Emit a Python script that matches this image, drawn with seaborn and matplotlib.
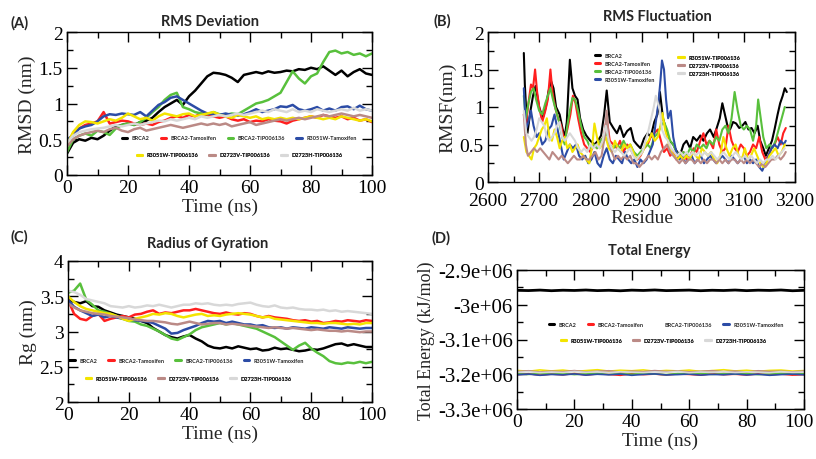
import matplotlib
matplotlib.use("Agg")
import matplotlib.pyplot as plt
import matplotlib.transforms as mtransforms
import seaborn as sns
from matplotlib.ticker import MultipleLocator, FuncFormatter
from matplotlib.lines import Line2D

# ---------------- data ----------------
names = ["BRCA2", "BRCA2-Tamoxifen", "BRCA2-TIP006136", "R3051W-Tamoxifen",
         "R3051W-TIP006136", "D2723V-TIP006136", "D2723H-TIP006136"]
colors = ["#000000", "#ff1f1f", "#58c03c", "#2c4ca6", "#f3e400", "#bb8a86", "#d8d8d8"]

time_ns = list(range(0, 101, 2))

rmsd_brca2 = [0.30, 0.45, 0.50, 0.48, 0.52, 0.50, 0.55, 0.62, 0.68, 0.70,
              0.72, 0.70, 0.74, 0.76, 0.80, 0.88, 0.95, 1.00, 1.05, 0.98,
              1.10, 1.18, 1.28, 1.38, 1.43, 1.42, 1.40, 1.36, 1.30, 1.40,
              1.42, 1.44, 1.42, 1.45, 1.43, 1.44, 1.46, 1.45, 1.48, 1.47,
              1.50, 1.48, 1.52, 1.46, 1.40, 1.46, 1.38, 1.44, 1.48, 1.42, 1.40]
rmsd_brca2_tam = [0.45, 0.58, 0.65, 0.70, 0.72, 0.75, 0.88, 0.72, 0.74, 0.76,
                  0.75, 0.72, 0.70, 0.72, 0.70, 0.74, 0.76, 0.80, 0.82, 0.80,
                  0.84, 0.82, 0.86, 0.84, 0.82, 0.80, 0.82, 0.78, 0.76, 0.78,
                  0.74, 0.76, 0.75, 0.78, 0.76, 0.75, 0.72, 0.76, 0.78, 0.80,
                  0.82, 0.80, 0.84, 0.82, 0.80, 0.82, 0.78, 0.80, 0.76, 0.78, 0.74]
rmsd_brca2_tip = [0.32, 0.50, 0.55, 0.58, 0.55, 0.62, 0.60, 0.56, 0.65, 0.70,
                  0.72, 0.70, 0.74, 0.80, 0.88, 0.95, 1.05, 1.12, 1.15, 0.95,
                  0.92, 0.88, 0.86, 0.85, 0.88, 0.85, 0.84, 0.86, 0.85, 0.90,
                  0.95, 1.00, 1.02, 1.05, 1.10, 1.15, 1.30, 1.45, 1.35, 1.28,
                  1.38, 1.42, 1.58, 1.72, 1.74, 1.70, 1.72, 1.68, 1.70, 1.66, 1.70]
rmsd_r3051w_tam = [0.50, 0.55, 0.65, 0.68, 0.70, 0.75, 0.82, 0.85, 0.84, 0.86,
                   0.85, 0.84, 0.88, 0.82, 0.90, 0.98, 1.02, 1.08, 1.10, 1.05,
                   1.00, 0.95, 0.90, 0.86, 0.85, 0.84, 0.86, 0.84, 0.83, 0.85,
                   0.88, 0.92, 0.88, 0.90, 0.92, 0.96, 0.95, 0.98, 0.92, 0.90,
                   0.92, 0.95, 0.90, 0.93, 0.90, 0.95, 0.96, 0.92, 0.97, 0.92, 0.90]
rmsd_r3051w_tip = [0.42, 0.60, 0.70, 0.75, 0.74, 0.72, 0.75, 0.78, 0.76, 0.80,
                   0.86, 0.82, 0.78, 0.80, 0.76, 0.82, 0.86, 0.84, 0.82, 0.85,
                   0.86, 0.82, 0.84, 0.86, 0.88, 0.84, 0.82, 0.80, 0.84, 0.82,
                   0.80, 0.82, 0.78, 0.80, 0.78, 0.80, 0.78, 0.80, 0.78, 0.80,
                   0.82, 0.80, 0.78, 0.80, 0.78, 0.82, 0.80, 0.78, 0.76, 0.78, 0.75]
rmsd_d2723v_tip = [0.40, 0.50, 0.55, 0.58, 0.60, 0.62, 0.60, 0.64, 0.66, 0.62,
                   0.60, 0.64, 0.66, 0.62, 0.64, 0.66, 0.68, 0.70, 0.68, 0.66,
                   0.68, 0.70, 0.72, 0.70, 0.72, 0.70, 0.72, 0.68, 0.70, 0.72,
                   0.74, 0.70, 0.72, 0.74, 0.76, 0.78, 0.76, 0.78, 0.80, 0.78,
                   0.80, 0.82, 0.84, 0.82, 0.84, 0.86, 0.84, 0.82, 0.84, 0.82, 0.80]
rmsd_d2723h_tip = [0.45, 0.55, 0.60, 0.62, 0.64, 0.65, 0.66, 0.68, 0.70, 0.68,
                   0.70, 0.72, 0.70, 0.72, 0.74, 0.76, 0.75, 0.78, 0.76, 0.78,
                   0.80, 0.78, 0.82, 0.80, 0.82, 0.84, 0.82, 0.84, 0.86, 0.84,
                   0.86, 0.88, 0.90, 0.88, 0.92, 0.90, 0.88, 0.92, 0.88, 0.90,
                   0.88, 0.92, 0.90, 0.88, 0.90, 0.92, 0.90, 0.94, 0.90, 0.92, 0.90]

rg_brca2 = [3.45, 3.42, 3.40, 3.43, 3.36, 3.35, 3.30, 3.27, 3.24, 3.22,
            3.20, 3.18, 3.15, 3.12, 3.05, 3.00, 2.95, 2.92, 2.90, 2.93,
            2.95, 2.90, 2.86, 2.80, 2.77, 2.76, 2.78, 2.76, 2.79, 2.77,
            2.75, 2.76, 2.73, 2.74, 2.77, 2.75, 2.76, 2.74, 2.72, 2.73,
            2.75, 2.74, 2.76, 2.79, 2.82, 2.83, 2.80, 2.82, 2.80, 2.78, 2.78]
rg_brca2_tam = [3.45, 3.25, 3.18, 3.16, 3.22, 3.25, 3.15, 3.18, 3.20, 3.22,
                3.20, 3.24, 3.25, 3.28, 3.30, 3.25, 3.27, 3.26, 3.28, 3.30,
                3.30, 3.32, 3.30, 3.28, 3.26, 3.25, 3.27, 3.25, 3.24, 3.26,
                3.25, 3.22, 3.20, 3.22, 3.20, 3.19, 3.18, 3.16, 3.15, 3.16,
                3.14, 3.15, 3.12, 3.13, 3.15, 3.14, 3.16, 3.15, 3.14, 3.16, 3.15]
rg_brca2_tip = [3.55, 3.58, 3.68, 3.45, 3.38, 3.30, 3.28, 3.25, 3.22, 3.18,
                3.15, 3.14, 3.10, 3.08, 3.04, 3.00, 2.95, 2.90, 2.88, 2.92,
                2.96, 3.02, 3.06, 3.08, 3.10, 3.12, 3.10, 3.12, 3.10, 3.08,
                3.06, 3.04, 3.00, 2.96, 2.92, 2.86, 2.80, 2.74, 2.80, 2.84,
                2.76, 2.70, 2.65, 2.58, 2.55, 2.54, 2.56, 2.55, 2.57, 2.55, 2.57]
rg_r3051w_tam = [3.45, 3.35, 3.30, 3.26, 3.22, 3.24, 3.20, 3.22, 3.20, 3.18,
                 3.18, 3.16, 3.15, 3.14, 3.12, 3.08, 3.04, 2.97, 2.98, 3.02,
                 3.05, 3.08, 3.12, 3.15, 3.14, 3.15, 3.12, 3.14, 3.12, 3.10,
                 3.10, 3.08, 3.09, 3.06, 3.05, 3.06, 3.04, 3.06, 3.05, 3.04,
                 3.06, 3.05, 3.04, 3.06, 3.05, 3.04, 3.06, 3.05, 3.04, 3.05, 3.05]
rg_r3051w_tip = [3.50, 3.42, 3.36, 3.32, 3.30, 3.28, 3.26, 3.25, 3.22, 3.18,
                 3.15, 3.18, 3.20, 3.22, 3.25, 3.24, 3.26, 3.25, 3.22, 3.20,
                 3.22, 3.24, 3.25, 3.22, 3.23, 3.22, 3.24, 3.25, 3.26, 3.25,
                 3.24, 3.22, 3.20, 3.21, 3.18, 3.17, 3.16, 3.15, 3.14, 3.13,
                 3.12, 3.12, 3.11, 3.12, 3.12, 3.11, 3.10, 3.11, 3.10, 3.12, 3.12]
rg_d2723v_tip = [3.40, 3.34, 3.30, 3.28, 3.26, 3.25, 3.24, 3.22, 3.21, 3.20,
                 3.19, 3.17, 3.16, 3.15, 3.15, 3.14, 3.13, 3.11, 3.10, 3.12,
                 3.14, 3.12, 3.10, 3.11, 3.12, 3.12, 3.10, 3.11, 3.10, 3.09,
                 3.08, 3.07, 3.06, 3.05, 3.06, 3.05, 3.04, 3.05, 3.04, 3.03,
                 3.02, 3.03, 3.02, 3.01, 3.01, 3.00, 3.01, 3.00, 2.99, 3.00, 3.00]
rg_d2723h_tip = [3.58, 3.56, 3.52, 3.46, 3.44, 3.42, 3.40, 3.36, 3.35, 3.34,
                 3.36, 3.34, 3.35, 3.37, 3.36, 3.38, 3.36, 3.34, 3.36, 3.38,
                 3.38, 3.40, 3.39, 3.40, 3.38, 3.37, 3.38, 3.37, 3.39, 3.40,
                 3.41, 3.38, 3.36, 3.35, 3.37, 3.34, 3.33, 3.34, 3.32, 3.31,
                 3.31, 3.30, 3.31, 3.29, 3.30, 3.28, 3.29, 3.28, 3.27, 3.26, 3.25]

# RMSF: (residue, nm) pairs
rmsf_brca2 = [(2670, 1.72), (2672, 1.3), (2677, 0.65), (2683, 0.95), (2688, 1.15), (2693, 1.28),
              (2700, 1.0), (2707, 0.85), (2713, 1.0), (2718, 1.2), (2723, 1.35), (2728, 1.25),
              (2733, 1.0), (2740, 0.9), (2746, 0.7), (2750, 0.6), (2754, 0.8), (2760, 1.63),
              (2765, 1.25), (2770, 1.15), (2775, 1.1), (2780, 0.85), (2786, 0.7), (2792, 0.62),
              (2800, 0.55), (2808, 0.5), (2815, 0.55), (2821, 0.62), (2827, 0.9), (2832, 1.22),
              (2838, 0.8), (2845, 0.72), (2852, 0.65), (2858, 0.75), (2865, 0.6), (2872, 0.68),
              (2879, 0.72), (2885, 0.55), (2891, 0.5), (2898, 0.45), (2905, 0.58), (2912, 0.65),
              (2918, 0.6), (2925, 0.8), (2931, 0.9), (2936, 1.2), (2942, 0.85), (2948, 0.7),
              (2955, 0.55), (2962, 0.5), (2968, 0.42), (2975, 0.35), (2982, 0.5), (2988, 0.55),
              (2995, 0.45), (3001, 0.6), (3008, 0.55), (3015, 0.62), (3021, 0.55), (3028, 0.65),
              (3034, 0.7), (3041, 0.6), (3047, 0.72), (3053, 0.85), (3058, 1.05), (3063, 0.9),
              (3068, 0.75), (3073, 0.7), (3079, 0.8), (3085, 0.78), (3091, 0.72), (3097, 0.75),
              (3103, 0.8), (3109, 0.7), (3115, 0.72), (3121, 0.65), (3127, 0.75), (3132, 0.55),
              (3138, 0.45), (3143, 0.35), (3149, 0.45), (3155, 0.55), (3160, 0.7), (3166, 0.9),
              (3171, 1.05), (3176, 1.15), (3180, 1.25), (3184, 1.2)]
rmsf_brca2_tam = [(2670, 0.9), (2674, 0.75), (2679, 1.05), (2684, 1.3), (2688, 1.25), (2692, 1.5),
                  (2696, 1.2), (2700, 1.0), (2706, 0.8), (2712, 0.95), (2717, 1.1), (2722, 1.5),
                  (2726, 1.2), (2731, 1.0), (2737, 0.85), (2743, 0.75), (2749, 0.55), (2755, 0.7),
                  (2761, 0.9), (2766, 1.15), (2771, 1.05), (2776, 0.85), (2782, 0.65), (2788, 0.5),
                  (2794, 0.45), (2800, 0.4), (2807, 0.5), (2813, 0.45), (2820, 0.55), (2826, 0.6),
                  (2832, 0.85), (2838, 0.55), (2845, 0.5), (2852, 0.45), (2858, 0.55), (2865, 0.4),
                  (2872, 0.5), (2878, 0.45), (2885, 0.35), (2892, 0.3), (2898, 0.35), (2905, 0.45),
                  (2912, 0.5), (2918, 0.6), (2925, 0.65), (2932, 0.7), (2938, 0.55), (2944, 0.4),
                  (2950, 0.45), (2956, 0.35), (2962, 0.4), (2968, 0.3), (2975, 0.35), (2982, 0.4),
                  (2988, 0.3), (2995, 0.35), (3002, 0.45), (3008, 0.4), (3015, 0.55), (3021, 0.65),
                  (3027, 0.5), (3033, 0.55), (3040, 0.45), (3046, 0.7), (3052, 0.5), (3058, 0.4),
                  (3064, 0.45), (3070, 0.75), (3076, 0.55), (3082, 0.45), (3088, 0.4), (3094, 0.5),
                  (3100, 0.45), (3106, 0.35), (3112, 0.4), (3118, 0.5), (3124, 0.45), (3130, 0.6),
                  (3136, 0.4), (3142, 0.3), (3148, 0.35), (3154, 0.45), (3160, 0.5), (3166, 0.6),
                  (3172, 0.5), (3177, 0.65), (3182, 0.72)]
rmsf_brca2_tip = [(2670, 1.15), (2674, 0.85), (2679, 1.05), (2684, 1.2), (2689, 1.25), (2694, 1.1),
                  (2700, 0.95), (2706, 0.9), (2712, 1.05), (2717, 1.15), (2722, 1.25), (2727, 1.1),
                  (2733, 0.95), (2739, 0.8), (2745, 0.6), (2750, 0.5), (2755, 0.75), (2760, 0.95),
                  (2765, 1.12), (2770, 1.1), (2776, 0.95), (2782, 0.75), (2788, 0.6), (2794, 0.55),
                  (2800, 0.45), (2807, 0.5), (2813, 0.45), (2820, 0.55), (2826, 0.6), (2832, 0.65),
                  (2838, 0.5), (2845, 0.45), (2852, 0.5), (2858, 0.45), (2865, 0.55), (2872, 0.45),
                  (2878, 0.5), (2885, 0.4), (2892, 0.35), (2898, 0.4), (2905, 0.45), (2912, 0.5),
                  (2918, 0.45), (2925, 0.6), (2932, 0.65), (2938, 0.75), (2944, 0.8), (2950, 0.7),
                  (2956, 0.55), (2962, 0.5), (2968, 0.4), (2975, 0.35), (2982, 0.4), (2988, 0.35),
                  (2995, 0.45), (3002, 0.4), (3008, 0.5), (3015, 0.45), (3021, 0.5), (3027, 0.45),
                  (3033, 0.55), (3040, 0.5), (3046, 0.6), (3052, 0.55), (3058, 0.7), (3064, 0.75),
                  (3070, 0.65), (3076, 0.85), (3082, 1.2), (3088, 0.95), (3094, 0.75), (3100, 0.7),
                  (3106, 0.75), (3112, 0.7), (3118, 0.55), (3124, 0.75), (3128, 1.1), (3133, 0.85),
                  (3138, 0.6), (3144, 0.45), (3150, 0.5), (3156, 0.45), (3162, 0.55), (3168, 0.7),
                  (3174, 0.85), (3180, 1.0)]
rmsf_r3051w_tam = [(2670, 1.25), (2674, 0.7), (2679, 0.8), (2684, 0.95), (2689, 0.75), (2695, 0.6),
                   (2700, 0.65), (2706, 0.5), (2712, 0.55), (2718, 0.7), (2724, 0.75), (2730, 0.9),
                   (2736, 0.7), (2742, 0.5), (2748, 0.3), (2754, 0.4), (2760, 0.5), (2766, 0.45),
                   (2772, 0.5), (2778, 0.35), (2784, 0.3), (2790, 0.35), (2796, 0.25), (2802, 0.3),
                   (2808, 0.4), (2814, 0.25), (2820, 0.2), (2826, 0.35), (2832, 0.45), (2838, 0.3),
                   (2844, 0.25), (2850, 0.35), (2856, 0.3), (2862, 0.25), (2868, 0.4), (2874, 0.3),
                   (2880, 0.25), (2886, 0.3), (2892, 0.2), (2898, 0.3), (2904, 0.25), (2910, 0.3),
                   (2916, 0.4), (2922, 0.5), (2928, 0.8), (2933, 1.05), (2937, 1.35), (2940, 1.62),
                   (2944, 1.5), (2948, 1.1), (2952, 0.85), (2957, 0.95), (2962, 0.6), (2968, 0.4),
                   (2974, 0.3), (2980, 0.35), (2986, 0.25), (2992, 0.3), (2998, 0.35), (3004, 0.25),
                   (3010, 0.3), (3016, 0.35), (3022, 0.25), (3028, 0.3), (3034, 0.35), (3040, 0.3),
                   (3046, 0.25), (3052, 0.3), (3058, 0.35), (3064, 0.3), (3070, 0.25), (3076, 0.35),
                   (3082, 0.3), (3088, 0.25), (3094, 0.3), (3100, 0.35), (3106, 0.25), (3112, 0.3),
                   (3118, 0.25), (3124, 0.3), (3130, 0.2), (3136, 0.15), (3142, 0.25), (3148, 0.35),
                   (3154, 0.45), (3160, 0.5), (3166, 0.45), (3172, 0.55), (3178, 0.5), (3182, 0.55)]
rmsf_r3051w_tip = [(2670, 0.6), (2675, 0.4), (2680, 0.35), (2685, 0.3), (2690, 0.45), (2695, 0.5),
                   (2700, 0.6), (2705, 0.7), (2710, 0.75), (2715, 0.85), (2720, 0.6), (2725, 0.55),
                   (2730, 0.7), (2735, 0.6), (2740, 0.45), (2745, 0.55), (2750, 0.6), (2755, 0.45),
                   (2760, 0.5), (2765, 0.4), (2770, 0.45), (2775, 0.5), (2780, 0.4), (2786, 0.35),
                   (2792, 0.3), (2798, 0.25), (2804, 0.5), (2808, 0.78), (2813, 0.6), (2818, 0.45),
                   (2824, 0.5), (2830, 0.6), (2836, 0.45), (2842, 0.4), (2848, 0.55), (2854, 0.45),
                   (2860, 0.4), (2866, 0.5), (2872, 0.45), (2878, 0.5), (2884, 0.4), (2890, 0.3),
                   (2896, 0.35), (2902, 0.4), (2908, 0.5), (2914, 0.55), (2920, 0.65), (2926, 0.55),
                   (2932, 0.6), (2937, 0.75), (2941, 0.92), (2946, 0.7), (2952, 0.55), (2958, 0.4),
                   (2964, 0.35), (2970, 0.3), (2976, 0.35), (2982, 0.3), (2988, 0.35), (2994, 0.3),
                   (3000, 0.4), (3006, 0.35), (3012, 0.3), (3018, 0.45), (3024, 0.4), (3030, 0.35),
                   (3036, 0.4), (3042, 0.3), (3048, 0.25), (3054, 0.35), (3060, 0.6), (3066, 0.45),
                   (3072, 0.35), (3078, 0.45), (3084, 0.5), (3090, 0.35), (3096, 0.3), (3102, 0.45),
                   (3108, 0.3), (3114, 0.35), (3120, 0.45), (3126, 0.35), (3132, 0.25), (3138, 0.2),
                   (3144, 0.25), (3150, 0.35), (3156, 0.4), (3162, 0.45), (3168, 0.35), (3174, 0.4),
                   (3180, 0.5)]
rmsf_d2723v_tip = [(2670, 0.9), (2674, 0.5), (2678, 0.35), (2684, 0.4), (2690, 0.45), (2696, 0.4),
                   (2702, 0.45), (2708, 0.4), (2714, 0.35), (2720, 0.3), (2726, 0.4), (2732, 0.35),
                   (2738, 0.3), (2744, 0.35), (2750, 0.3), (2756, 0.25), (2762, 0.3), (2768, 0.35),
                   (2774, 0.3), (2780, 0.3), (2786, 0.35), (2792, 0.3), (2798, 0.3), (2804, 0.35),
                   (2810, 0.4), (2816, 0.3), (2822, 0.35), (2828, 0.6), (2832, 0.95), (2836, 0.55),
                   (2842, 0.4), (2848, 0.3), (2854, 0.35), (2860, 0.3), (2866, 0.35), (2872, 0.3),
                   (2878, 0.35), (2884, 0.25), (2890, 0.25), (2896, 0.2), (2902, 0.25), (2908, 0.3),
                   (2914, 0.35), (2920, 0.3), (2926, 0.35), (2932, 0.3), (2938, 0.4), (2944, 0.45),
                   (2950, 0.5), (2956, 0.4), (2962, 0.35), (2968, 0.3), (2974, 0.25), (2980, 0.3),
                   (2986, 0.25), (2992, 0.3), (2998, 0.3), (3004, 0.25), (3010, 0.3), (3016, 0.25),
                   (3022, 0.3), (3028, 0.25), (3034, 0.3), (3040, 0.3), (3046, 0.25), (3052, 0.3),
                   (3058, 0.25), (3064, 0.3), (3070, 0.25), (3076, 0.3), (3082, 0.3), (3088, 0.25),
                   (3094, 0.3), (3100, 0.25), (3106, 0.3), (3112, 0.25), (3118, 0.3), (3124, 0.25),
                   (3130, 0.2), (3136, 0.25), (3142, 0.2), (3148, 0.25), (3154, 0.3), (3160, 0.3),
                   (3166, 0.35), (3172, 0.3), (3178, 0.35), (3182, 0.4)]
rmsf_d2723h_tip = [(2670, 0.95), (2675, 0.65), (2680, 0.6), (2685, 0.55), (2690, 0.6), (2695, 0.7),
                   (2700, 0.85), (2705, 0.8), (2710, 0.75), (2715, 0.6), (2720, 0.55), (2725, 0.6),
                   (2730, 0.65), (2735, 0.75), (2740, 0.8), (2745, 0.6), (2750, 0.55), (2755, 0.6),
                   (2760, 0.65), (2765, 0.6), (2770, 0.55), (2776, 0.45), (2782, 0.4), (2788, 0.45),
                   (2794, 0.4), (2800, 0.5), (2806, 0.45), (2812, 0.5), (2818, 0.45), (2824, 0.55),
                   (2830, 0.75), (2836, 0.55), (2842, 0.45), (2848, 0.4), (2854, 0.45), (2860, 0.4),
                   (2866, 0.35), (2872, 0.4), (2878, 0.45), (2884, 0.35), (2890, 0.3), (2896, 0.35),
                   (2902, 0.4), (2908, 0.55), (2914, 0.7), (2919, 0.85), (2924, 1.0), (2928, 1.15),
                   (2932, 1.05), (2936, 0.95), (2940, 0.7), (2946, 0.6), (2952, 0.55), (2958, 0.45),
                   (2964, 0.4), (2970, 0.35), (2976, 0.4), (2982, 0.35), (2988, 0.4), (2994, 0.35),
                   (3000, 0.4), (3006, 0.35), (3012, 0.4), (3018, 0.35), (3024, 0.4), (3030, 0.35),
                   (3036, 0.4), (3042, 0.35), (3048, 0.3), (3054, 0.35), (3060, 0.4), (3066, 0.35),
                   (3072, 0.3), (3078, 0.35), (3084, 0.4), (3090, 0.35), (3096, 0.3), (3102, 0.35),
                   (3108, 0.3), (3114, 0.35), (3120, 0.3), (3126, 0.25), (3132, 0.3), (3138, 0.25),
                   (3144, 0.3), (3150, 0.3), (3156, 0.35), (3162, 0.3), (3168, 0.35), (3174, 0.4),
                   (3180, 0.45)]

energy_time_ns = list(range(0, 101, 4))
energy_brca2 = [-2.9585e6, -2.9592e6, -2.9578e6, -2.9596e6, -2.9582e6, -2.9589e6, -2.9576e6,
                -2.9593e6, -2.9584e6, -2.9598e6, -2.9580e6, -2.9589e6, -2.9575e6, -2.9593e6,
                -2.9586e6, -2.9579e6, -2.9596e6, -2.9583e6, -2.9590e6, -2.9577e6, -2.9594e6,
                -2.9581e6, -2.9588e6, -2.9576e6, -2.9597e6, -2.9585e6]
energy_brca2_tam = [-3.2010e6, -3.1985e6, -3.2025e6, -3.1995e6, -3.2015e6, -3.1980e6, -3.2020e6,
                    -3.1990e6, -3.2005e6, -3.2030e6, -3.1985e6, -3.2010e6, -3.1995e6, -3.2020e6,
                    -3.1990e6, -3.2005e6, -3.2025e6, -3.1985e6, -3.2010e6, -3.2000e6, -3.2020e6,
                    -3.1990e6, -3.2015e6, -3.1995e6, -3.2025e6, -3.2005e6]
energy_brca2_tip = [-3.1985e6, -3.2005e6, -3.1975e6, -3.2000e6, -3.1980e6, -3.2010e6, -3.1990e6,
                    -3.1975e6, -3.2005e6, -3.1985e6, -3.2000e6, -3.1970e6, -3.1995e6, -3.2010e6,
                    -3.1980e6, -3.1995e6, -3.1975e6, -3.2005e6, -3.1985e6, -3.2000e6, -3.1980e6,
                    -3.2010e6, -3.1990e6, -3.1975e6, -3.2000e6, -3.1985e6]
energy_r3051w_tam = [-3.2015e6, -3.1995e6, -3.2030e6, -3.2005e6, -3.2020e6, -3.1990e6, -3.2025e6,
                     -3.2000e6, -3.2015e6, -3.1995e6, -3.2030e6, -3.2005e6, -3.1990e6, -3.2020e6,
                     -3.2010e6, -3.1995e6, -3.2025e6, -3.2005e6, -3.2015e6, -3.1990e6, -3.2020e6,
                     -3.2000e6, -3.2030e6, -3.2010e6, -3.1995e6, -3.2015e6]
energy_r3051w_tip = [-3.1890e6, -3.1915e6, -3.1875e6, -3.1905e6, -3.1880e6, -3.1920e6, -3.1895e6,
                     -3.1870e6, -3.1910e6, -3.1885e6, -3.1900e6, -3.1875e6, -3.1915e6, -3.1890e6,
                     -3.1905e6, -3.1880e6, -3.1920e6, -3.1895e6, -3.1870e6, -3.1905e6, -3.1885e6,
                     -3.1915e6, -3.1890e6, -3.1880e6, -3.1910e6, -3.1895e6]
energy_d2723v_tip = [-3.1920e6, -3.1900e6, -3.1935e6, -3.1910e6, -3.1925e6, -3.1895e6, -3.1930e6,
                     -3.1915e6, -3.1900e6, -3.1935e6, -3.1910e6, -3.1925e6, -3.1895e6, -3.1920e6,
                     -3.1905e6, -3.1930e6, -3.1915e6, -3.1900e6, -3.1925e6, -3.1910e6, -3.1935e6,
                     -3.1900e6, -3.1920e6, -3.1915e6, -3.1930e6, -3.1905e6]
energy_d2723h_tip = [-3.1945e6, -3.1925e6, -3.1955e6, -3.1935e6, -3.1950e6, -3.1920e6, -3.1945e6,
                     -3.1930e6, -3.1955e6, -3.1925e6, -3.1940e6, -3.1950e6, -3.1930e6, -3.1945e6,
                     -3.1920e6, -3.1955e6, -3.1935e6, -3.1945e6, -3.1925e6, -3.1950e6, -3.1930e6,
                     -3.1940e6, -3.1955e6, -3.1925e6, -3.1945e6, -3.1935e6]

rmsd_all = [rmsd_brca2, rmsd_brca2_tam, rmsd_brca2_tip, rmsd_r3051w_tam,
            rmsd_r3051w_tip, rmsd_d2723v_tip, rmsd_d2723h_tip]
rg_all = [rg_brca2, rg_brca2_tam, rg_brca2_tip, rg_r3051w_tam,
          rg_r3051w_tip, rg_d2723v_tip, rg_d2723h_tip]
rmsf_all = [rmsf_brca2, rmsf_brca2_tam, rmsf_brca2_tip, rmsf_r3051w_tam,
            rmsf_r3051w_tip, rmsf_d2723v_tip, rmsf_d2723h_tip]
energy_all = [energy_brca2, energy_brca2_tam, energy_brca2_tip, energy_r3051w_tam,
              energy_r3051w_tip, energy_d2723v_tip, energy_d2723h_tip]

# ---------------- style ----------------
sns.set_theme(style="ticks")
plt.rcParams.update({
    "font.family": ["Liberation Serif", "DejaVu Serif"],
    "axes.unicode_minus": False,
    "axes.linewidth": 1.0,
    "axes.edgecolor": "black",
    "xtick.direction": "in", "ytick.direction": "in",
    "xtick.top": True, "ytick.right": True,
    "xtick.major.size": 7, "ytick.major.size": 7,
    "xtick.minor.size": 4, "ytick.minor.size": 4,
    "xtick.major.width": 1.0, "ytick.major.width": 1.0,
    "xtick.minor.width": 1.0, "ytick.minor.width": 1.0,
    "xtick.color": "black", "ytick.color": "black",
    "xtick.labelsize": 14, "ytick.labelsize": 14,
    "xtick.major.pad": 3, "ytick.major.pad": 3,
    "axes.labelsize": 14,
})

W, H = 816, 460
fig = plt.figure(figsize=(W / 100, H / 100), dpi=100)


def box(l, t, r, b):
    return [l / W, 1 - b / H, (r - l) / W, (b - t) / H]


axA = fig.add_axes(box(67, 33, 372, 176))
axB = fig.add_axes(box(488, 33, 795, 183))
axC = fig.add_axes(box(68, 262, 372, 403))
axD = fig.add_axes(box(517, 271, 804, 410))

LW = 1.8
for vals, c in zip(rmsd_all, colors):
    sns.lineplot(x=time_ns, y=vals, color=c, lw=LW, ax=axA, legend=False, estimator=None)
for vals, c in zip(rg_all, colors):
    sns.lineplot(x=time_ns, y=vals, color=c, lw=LW, ax=axC, legend=False, estimator=None)
for pairs, c in zip(rmsf_all, colors):
    xs = [p[0] for p in pairs]
    ys = [p[1] for p in pairs]
    sns.lineplot(x=xs, y=ys, color=c, lw=1.5, ax=axB, legend=False, estimator=None)
for vals, c in zip(energy_all, colors):
    sns.lineplot(x=energy_time_ns, y=vals, color=c, lw=(2.0 if c == "#000000" else 1.2),
                 ax=axD, legend=False, estimator=None)

gfmt = FuncFormatter(lambda v, p: f"{v:g}")

for ax in (axA, axC, axD):
    ax.set_xlim(0, 100)
    ax.xaxis.set_major_locator(MultipleLocator(20))
    ax.xaxis.set_minor_locator(MultipleLocator(10))
    ax.set_xlabel("Time (ns)")
axA.set_ylim(0, 2)
axC.set_ylim(2, 4)
for ax in (axA, axB, axC):
    ax.yaxis.set_major_locator(MultipleLocator(0.5))
    ax.yaxis.set_minor_locator(MultipleLocator(0.25))
    ax.yaxis.set_major_formatter(gfmt)
axB.set_xlim(2600, 3200)
axB.set_ylim(0, 2)
axB.xaxis.set_major_locator(MultipleLocator(100))
axB.xaxis.set_minor_locator(MultipleLocator(50))
axB.tick_params(axis="x", which="major", pad=7)
axD.set_ylim(-3.3e6, -2.9e6)
axD.yaxis.set_major_locator(MultipleLocator(1e5))
axD.yaxis.set_minor_locator(MultipleLocator(5e4))
axD.yaxis.set_major_formatter(gfmt)
axD.tick_params(axis="y", which="major", labelsize=15)

axA.set_ylabel("RMSD (nm)")
axB.set_ylabel("RMSF(nm)")
axB.set_xlabel("Residue")
axC.set_ylabel("Rg (nm)")
axD.set_ylabel("Total Energy (kJ/mol)", fontsize=13)
for ax in (axA, axB, axC, axD):
    ax.xaxis.labelpad = 1
    ax.yaxis.labelpad = 2
    ax.tick_params(which="both", top=True, right=True)
axB.xaxis.labelpad = 0

# keep the last x tick label of panel D inside the figure
fig.canvas.draw()
for lab in axD.get_xticklabels():
    if lab.get_text() == "100":
        lab.set_ha("right")
        lab.set_transform(lab.get_transform() +
                          mtransforms.ScaledTranslation(10 / 100, 0, fig.dpi_scale_trans))

leg_prop = dict(family="Lato", weight="bold", size=4.0)


def add_legend(ax, idxs, xy, ncol, blank=()):
    handles = [Line2D([], [], color=("none" if i in blank else colors[i]), lw=2.2) for i in idxs]
    leg = ax.legend(handles, [names[i] for i in idxs], ncol=ncol, loc="center",
                    bbox_to_anchor=xy, frameon=False, prop=leg_prop, handlelength=1.0,
                    handletextpad=0.8, columnspacing=2.0, borderpad=0, labelspacing=0.55)
    for t in leg.get_texts():
        t.set_color("#222222")
    ax.add_artist(leg)


add_legend(axA, [0, 1, 2, 3], (0.565, 0.259), 4)
add_legend(axA, [4, 5, 6], (0.565, 0.14), 3)
add_legend(axB, [0, 1, 2, 3], (0.446, 0.763), 1)
add_legend(axB, [4, 5, 6], (0.72, 0.777), 1)
add_legend(axC, [0, 1, 2, 3], (0.39, 0.293), 4)
add_legend(axC, [4, 5, 6], (0.396, 0.168), 3)
add_legend(axD, [0, 1, 2, 3], (0.52, 0.611), 4, blank=(2,))
add_legend(axD, [4, 5, 6], (0.51, 0.496), 3)

tprop = dict(family="Lato", weight="bold", fontsize=10.5, ha="center", va="center")
fig.text(210 / W, 1 - 22 / H, "RMS Deviation", **tprop)
fig.text(657 / W, 1 - 17 / H, "RMS Fluctuation", **tprop)
fig.text(208 / W, 1 - 244 / H, "Radius of Gyration", **tprop)
fig.text(649 / W, 1 - 251 / H, "Total Energy", **tprop)
fig.text(20 / W, 1 - 23 / H, "(A)", **tprop)
fig.text(442 / W, 1 - 21 / H, "(B)", **tprop)
fig.text(19 / W, 1 - 237 / H, "(C)", **tprop)
fig.text(441 / W, 1 - 238 / H, "(D)", **tprop)

fig.savefig("out.png", dpi=100)
